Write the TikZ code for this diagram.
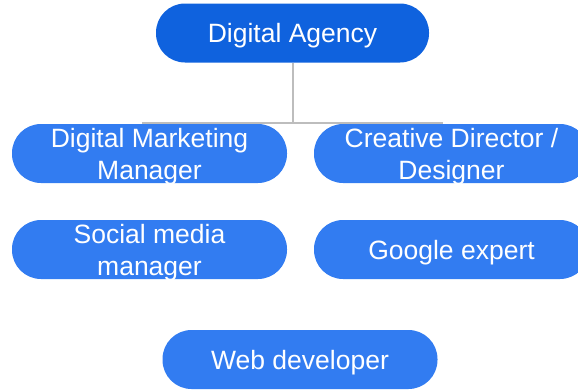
\documentclass[tikz,border=0pt]{standalone}
\usepackage{fontspec}
\setmainfont{Liberation Sans}
\definecolor{topblue}{HTML}{0F62DE}
\definecolor{boxblue}{HTML}{327CF1}
\definecolor{linegray}{HTML}{BDBDBD}
\begin{document}
\begin{tikzpicture}[x=1pt,y=-1pt,
  pill/.style={fill=boxblue, text=white, draw=none, rounded corners=29pt,
    minimum width=275pt, minimum height=59pt, inner sep=0pt, align=center,
    text depth=0pt, font=\fontsize{26.5}{32}\selectfont},
  toppill/.style={pill, fill=topblue, minimum width=273pt},
  conn/.style={draw=linegray, line width=2pt}]
\useasboundingbox (0,0) rectangle (578,389);
\clip (0,0) rectangle (578,389);
\coordinate (hl) at (142,123);
\coordinate (hr) at (443,123);
\coordinate (hm) at (292.7,123);
\draw[conn] (hl) -- (hr);
\node[toppill] (agency) at (292.5,33) {Digital Agency};
\draw[conn] (agency.south -| hm) -- (hm);
\node[pill] (dmm) at (149.5,153.5) {Digital Marketing\\Manager};
\node[pill] (cdd) at (451.5,153.5) {Creative Director /\\Designer};
\node[pill] (smm) at (149.5,249.5) {Social media\\manager};
\node[pill] (ge) at (451.5,249.5) {Google expert};
\node[pill] (web) at (300,359.5) {Web developer};
\end{tikzpicture}
\end{document}
